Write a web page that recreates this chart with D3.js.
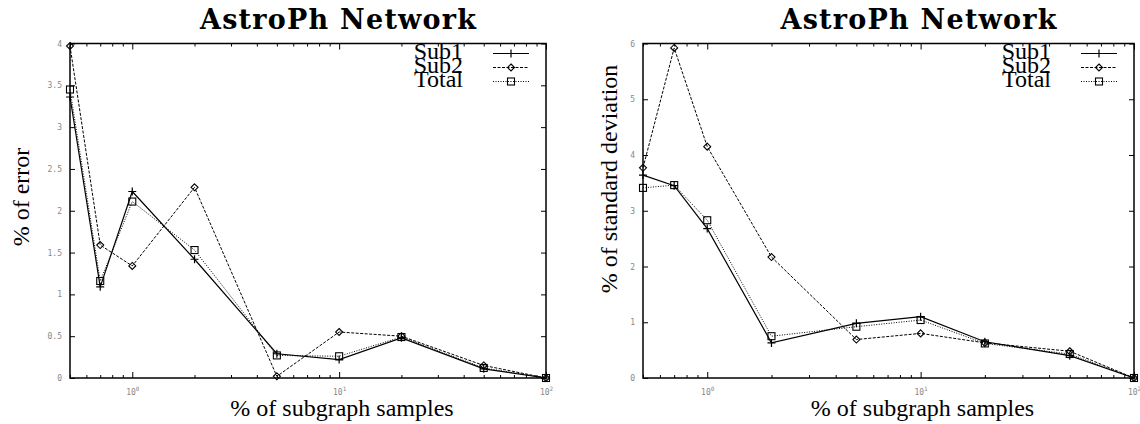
<!DOCTYPE html>
<head>
  <meta charset="utf-8">
  <title>AstroPh Network</title>
  <script type="text/javascript" src="https://d3js.org/d3.v7.min.js"></script>
  <style>
    body { margin: 0; background: white; }
    .title { font: bold 27px "DejaVu Serif", serif; text-anchor: middle; }
    .lbl { font: 24px "Liberation Serif", serif; text-anchor: middle; }
    .leg { font: 24px "Liberation Serif", serif; text-anchor: end; }
    .tick text { font: 8px "DejaVu Sans Mono", monospace; fill: #888; }
  </style>
</head>
<body>
<script type="text/javascript">
// % of subgraph samples
const samples = [0.5, 0.7, 1, 2, 5, 10, 20, 50, 100]
const seriesNames = ['Sub1', 'Sub2', 'Total']

// left panel: % of error
const errSub1 = [3.36, 1.09, 2.23, 1.42, 0.29, 0.22, 0.48, 0.11, 0]
const errSub2 = [3.97, 1.59, 1.34, 2.28, 0.02, 0.55, 0.50, 0.15, 0]
const errTotal = [3.45, 1.16, 2.11, 1.53, 0.27, 0.26, 0.49, 0.12, 0]
const errTicks = [0, 0.5, 1, 1.5, 2, 2.5, 3, 3.5, 4]

// right panel: % of standard deviation
const sdSub1 = [3.64, 3.45, 2.68, 0.63, 0.98, 1.10, 0.65, 0.40, 0]
const sdSub2 = [3.77, 5.92, 4.15, 2.17, 0.69, 0.80, 0.63, 0.48, 0]
const sdTotal = [3.41, 3.46, 2.83, 0.75, 0.92, 1.04, 0.62, 0.43, 0]
const sdTicks = [0, 1, 2, 3, 4, 5, 6]

const xMajor = [1, 10, 100]

const svg = d3.select('body').append('svg').attr('width', 1140).attr('height', 424)

const dash = ['none', '3,1.5', '1,1.5']

function marker(g, kind, x, y) {
  if (kind === 0) {
    g.append('path').attr('d', `M${x - 4},${y}H${x + 4}M${x},${y - 4}V${y + 4}`)
      .attr('stroke', 'black').attr('stroke-width', 1.2)
  } else if (kind === 1) {
    g.append('path').attr('d', `M${x},${y - 3.5}L${x + 3.5},${y}L${x},${y + 3.5}L${x - 3.5},${y}Z`)
      .attr('stroke', 'black').attr('fill', 'none').attr('stroke-width', 1.1)
  } else {
    g.append('rect').attr('x', x - 3.5).attr('y', y - 3.5).attr('width', 7).attr('height', 7)
      .attr('stroke', 'black').attr('fill', 'none').attr('stroke-width', 1.1)
  }
}

function panel(x0, x1, y0, y1, yMax, yTicks, yLabel, yLabelPos, series) {
  const x = d3.scaleLog().domain([0.5, 100]).range([x0, x1])
  const y = d3.scaleLinear().domain([0, yMax]).range([y1, y0])
  const g = svg.append('g')

  // minor and major x ticks, bottom and top
  const minor = x.ticks().filter(d => !xMajor.includes(d))
  const bottom = g.append('g').attr('transform', `translate(0,${y1})`)
    .call(d3.axisBottom(x).tickValues(minor).tickSize(-3).tickFormat(''))
  bottom.select('.domain').remove()
  const top = g.append('g').attr('transform', `translate(0,${y0})`)
    .call(d3.axisTop(x).tickValues(minor).tickSize(-3).tickFormat(''))
  top.select('.domain').remove()
  const bMaj = g.append('g').attr('transform', `translate(0,${y1})`)
    .call(d3.axisBottom(x).tickValues(xMajor).tickSize(-6).tickFormat(''))
  bMaj.select('.domain').remove()
  bMaj.selectAll('.tick').append('text').attr('y', 17).attr('fill', '#888')
    .attr('text-anchor', 'middle')
    .html(d => `10<tspan dy="-4" font-size="6">${Math.round(Math.log10(d))}</tspan>`)
  const tMaj = g.append('g').attr('transform', `translate(0,${y0})`)
    .call(d3.axisTop(x).tickValues(xMajor).tickSize(-6).tickFormat(''))
  tMaj.select('.domain').remove()

  // y ticks left and right
  const left = g.append('g').attr('transform', `translate(${x0},0)`)
    .call(d3.axisLeft(y).tickValues(yTicks).tickSize(-5).tickPadding(8).tickFormat(d3.format('')))
  left.select('.domain').remove()
  const right = g.append('g').attr('transform', `translate(${x1},0)`)
    .call(d3.axisRight(y).tickValues(yTicks).tickSize(-5).tickFormat(''))
  right.select('.domain').remove()
  g.selectAll('.tick line').attr('stroke', 'black')

  g.append('rect').attr('x', x0).attr('y', y0).attr('width', x1 - x0).attr('height', y1 - y0)
    .attr('fill', 'none').attr('stroke', 'black').attr('stroke-width', 1.5)

  // series
  series.forEach((vals, i) => {
    const line = d3.line().x((d, j) => x(samples[j])).y(d => y(d))
    g.append('path').datum(vals).attr('d', line).attr('fill', 'none')
      .attr('stroke', 'black').attr('stroke-width', i === 0 ? 1.2 : 1)
      .attr('stroke-dasharray', dash[i])
    vals.forEach((v, j) => marker(g, i, x(samples[j]), y(v)))
  })

  // legend
  const lx = x1 - 83
  seriesNames.forEach((name, i) => {
    const ly = y0 + 10 + i * 14
    g.append('text').attr('class', 'leg').attr('x', lx).attr('y', ly + 5).text(name)
    g.append('line').attr('x1', x1 - 53).attr('x2', x1 - 17).attr('y1', ly).attr('y2', ly)
      .attr('stroke', 'black').attr('stroke-width', i === 0 ? 1.2 : 1).attr('stroke-dasharray', dash[i])
    marker(g, i, x1 - 35, ly)
  })

  const cx = (x0 + x1) / 2 + 30
  g.append('text').attr('class', 'title').attr('x', cx).attr('y', 29)
    .attr('textLength', 276).attr('lengthAdjust', 'spacing').text('AstroPh Network')
  g.append('text').attr('class', 'lbl').attr('x', cx + 4).attr('y', 416).text('% of subgraph samples')
  g.append('text').attr('class', 'lbl')
    .attr('transform', `translate(${yLabelPos[0]},${yLabelPos[1]}) rotate(-90)`).text(yLabel)
}

panel(70, 546, 43.5, 378, 4, errTicks, '% of error', [29, 197], [errSub1, errSub2, errTotal])
panel(643, 1134, 43.5, 378, 6, sdTicks, '% of standard deviation', [617, 179], [sdSub1, sdSub2, sdTotal])
</script>
</body>
